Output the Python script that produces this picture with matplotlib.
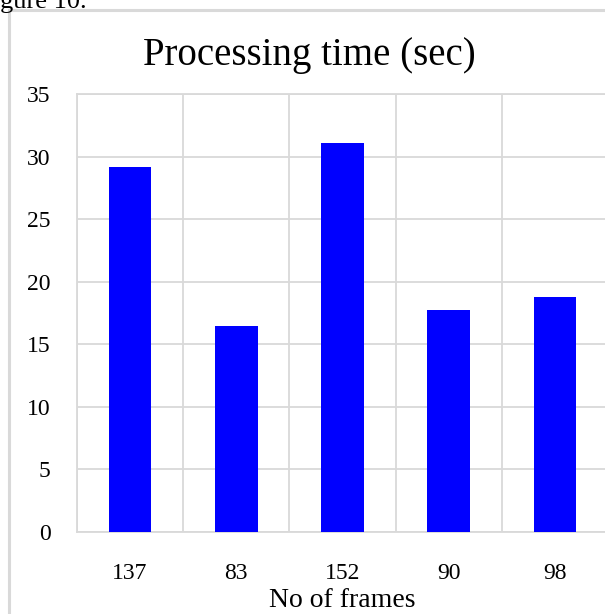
import matplotlib
matplotlib.use("Agg")
import matplotlib.pyplot as plt
from matplotlib.patches import Rectangle
import numpy as np

plt.rcParams["font.family"] = ["Liberation Serif", "DejaVu Serif"]

# data
frames = ["137", "83", "152", "90", "98"]
proc_time = [29.2, 16.5, 31.1, 17.7, 18.8]
y_ticks = [0, 5, 10, 15, 20, 25, 30, 35]

W, H = 605, 614
fig = plt.figure(figsize=(W / 100, H / 100), dpi=100)

# outer chart frame (cropped on right/bottom)
fig.patches.append(Rectangle((9 / W, -0.1), 1.2, 1 - 10 / H + 0.1,
                             transform=fig.transFigure, fill=False,
                             edgecolor="#d9d9d9", linewidth=2.2))
# caption line of the page, cut off at the top like in the scan
fig.text(-22 / W, 1 + 9 / H, "Figure 10.", fontsize=19, ha="left", va="top")

left, right = 77 / W, 608 / W
bottom, top = 1 - 532 / H, 1 - 94 / H
ax = fig.add_axes([left, bottom, right - left, top - bottom])

x = np.arange(len(frames))
ax.bar(x, proc_time, width=0.4, color="#0000ff", zorder=3)

ax.set_xlim(-0.5, len(frames) - 0.5)
ax.set_ylim(0, 35)
ax.set_yticks(y_ticks)
ax.set_xticks(x)
ax.set_xticklabels(frames)
ax.set_xticks(np.arange(len(frames) + 1) - 0.5, minor=True)

ax.grid(True, which="major", axis="y", color="#d9d9d9", linewidth=1.3, zorder=0)
ax.grid(True, which="minor", axis="x", color="#d9d9d9", linewidth=1.3, zorder=0)
ax.tick_params(which="both", length=0)
ax.tick_params(axis="y", labelsize=17, pad=19)
ax.tick_params(axis="x", labelsize=17, pad=22)
for s in ["left", "bottom", "top"]:
    ax.spines[s].set_color("#d9d9d9")
    ax.spines[s].set_linewidth(1.3)
ax.spines["right"].set_visible(False)

ax.set_xlabel("No of frames", fontsize=20, labelpad=3)
fig.text(309 / W, 1 - 56 / H, "Processing time (sec)",
         fontsize=28, ha="center", va="center")

fig.savefig("out.png", dpi=100)
